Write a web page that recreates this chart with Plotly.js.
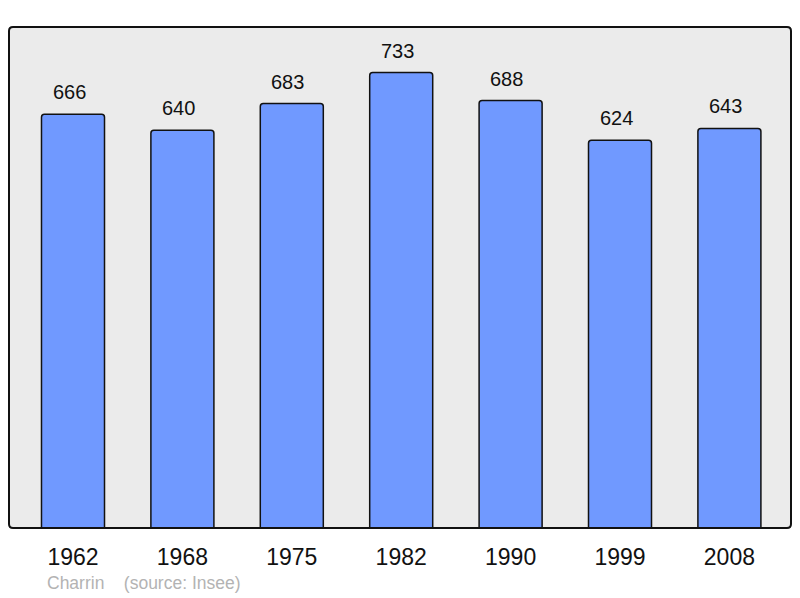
<!DOCTYPE html>
<html>
<head>
<meta charset="utf-8">
<script src="https://cdn.plot.ly/plotly-3.0.1.min.js"></script>
<style>html,body{margin:0;padding:0;background:#fff}#chart{width:800px;height:598px}</style>
</head>
<body>
<div id="chart"></div>
<script>
const years = ["1962", "1968", "1975", "1982", "1990", "1999", "2008"];
const population = [666, 640, 683, 733, 688, 624, 643];
const sourceText = "Charrin&nbsp;&nbsp;&nbsp;&nbsp;(source: Insee)";

const fontFamily = "Liberation Sans, Arial, sans-serif";
const rx = 4 / 782, ry = 4 / 501;
const framePath = `M ${rx} 0 L ${1 - rx} 0 Q 1 0 1 ${ry} L 1 ${1 - ry} Q 1 1 ${1 - rx} 1 L ${rx} 1 Q 0 1 0 ${1 - ry} L 0 ${ry} Q 0 0 ${rx} 0 Z`;

const annotations = years.map((y, i) => ({
  x: i, y: population[i], xref: "x", yref: "y",
  text: String(population[i]), showarrow: false,
  yanchor: "bottom", yshift: 9, xshift: -4,
  font: {family: fontFamily, size: 20, color: "#111"}
}));
annotations.push({
  xref: "paper", yref: "paper", x: 0.046, y: -0.11, xanchor: "left", yanchor: "middle",
  text: sourceText, showarrow: false,
  font: {family: fontFamily, size: 17.5, color: "#b3b3b3"}
});

Plotly.newPlot("chart", [{
  type: "bar", x: years, y: population,
  marker: {color: "#7099ff", line: {color: "#111", width: 1.5}, cornerradius: 3},
  hoverinfo: "skip"
}], {
  width: 800, height: 598,
  margin: {l: 9, r: 9, t: 27, b: 70},
  paper_bgcolor: "#ffffff", plot_bgcolor: "#ebebeb",
  bargap: 0.424,
  showlegend: false,
  xaxis: {type: "category", range: [-0.585, 6.563], showgrid: false, zeroline: false, showline: false,
    ticks: "outside", ticklen: 8, tickcolor: "rgba(0,0,0,0)",
    tickfont: {family: fontFamily, size: 23, color: "#111"}},
  yaxis: {range: [0, 806.3], showgrid: false, zeroline: false, showline: false, showticklabels: false, ticks: ""},
  shapes: [{type: "path", xref: "paper", yref: "paper", path: framePath, line: {color: "#111", width: 2}, layer: "above"}],
  annotations: annotations
}, {staticPlot: true});
</script>
</body>
</html>
